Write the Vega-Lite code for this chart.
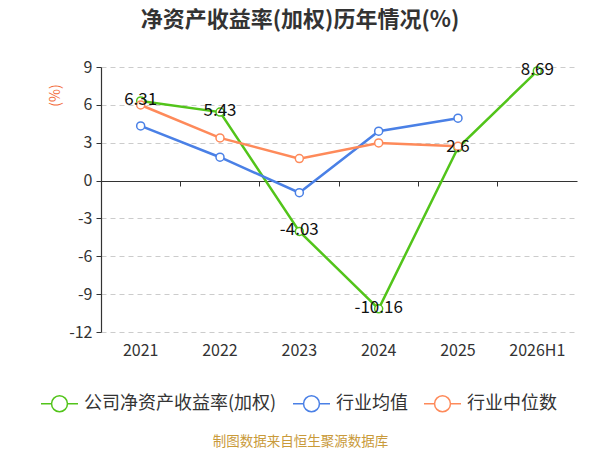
{
  "$schema": "https://vega.github.io/schema/vega-lite/v6.json",
  "autosize": "none",
  "width": 476,
  "height": 265,
  "padding": {"left": 101, "top": 67, "right": 23, "bottom": 118},
  "background": "white",
  "config": {
    "font": "Noto Sans CJK SC",
    "view": {"stroke": null}
  },
  "title": {
    "text": "净资产收益率(加权)历年情况(%)",
    "fontSize": 22,
    "fontWeight": "bold",
    "color": "#333333",
    "anchor": "middle",
    "dx": -39,
    "offset": 27
  },
  "data": {
    "values": [
      {"series": "公司净资产收益率(加权)", "year": "2021", "value": 6.31},
      {"series": "公司净资产收益率(加权)", "year": "2022", "value": 5.43},
      {"series": "公司净资产收益率(加权)", "year": "2023", "value": -4.03},
      {"series": "公司净资产收益率(加权)", "year": "2024", "value": -10.16},
      {"series": "公司净资产收益率(加权)", "year": "2025", "value": 2.6},
      {"series": "公司净资产收益率(加权)", "year": "2026H1", "value": 8.69},
      {"series": "行业均值", "year": "2021", "value": 4.33},
      {"series": "行业均值", "year": "2022", "value": 1.85},
      {"series": "行业均值", "year": "2023", "value": -0.96},
      {"series": "行业均值", "year": "2024", "value": 3.91},
      {"series": "行业均值", "year": "2025", "value": 4.94},
      {"series": "行业中位数", "year": "2021", "value": 5.99},
      {"series": "行业中位数", "year": "2022", "value": 3.38},
      {"series": "行业中位数", "year": "2023", "value": 1.74},
      {"series": "行业中位数", "year": "2024", "value": 2.98},
      {"series": "行业中位数", "year": "2025", "value": 2.72}
    ]
  },
  "encoding": {
    "y": {
      "field": "value",
      "type": "quantitative",
      "scale": {"domain": [-12, 9], "nice": false, "zero": false},
      "axis": {
        "values": [-12, -9, -6, -3, 0, 3, 6, 9],
        "labelExpr": "datum.value + ''",
        "title": "(%)",
        "titleColor": "#f26b3a",
        "titleFontSize": 14,
        "titleFontWeight": "normal",
        "titleX": -46,
        "titleY": 28,
        "titleAlign": "center",
        "titleBaseline": "middle",
        "titleAngle": -90,
        "labelFontSize": 16,
        "labelColor": "#333333",
        "labelPadding": 4,
        "domainColor": "#333333",
        "domainWidth": 1.2,
        "tickColor": "#333333",
        "tickSize": 5,
        "gridColor": "#cccccc",
        "gridDash": [5, 4],
        "gridWidth": 1
      }
    }
  },
  "layer": [
    {
      "mark": {"type": "line", "strokeWidth": 2.5},
      "encoding": {
        "x": {
          "field": "year",
          "type": "ordinal",
          "scale": {"type": "band", "paddingInner": 0, "paddingOuter": 0},
          "axis": {
            "orient": "bottom",
            "domain": false,
            "ticks": false,
            "grid": false,
            "labelAngle": 0,
            "labelFontSize": 16,
            "labelColor": "#333333",
            "labelPadding": 10,
            "title": "制图数据来自恒生聚源数据库",
            "titleColor": "#c99a3a",
            "titleFontSize": 13.5,
            "titleFontWeight": "normal",
            "titleX": 199,
            "titleY": 109,
            "titleAlign": "center",
            "titleBaseline": "middle"
          }
        },
        "color": {
          "field": "series",
          "type": "nominal",
          "sort": ["公司净资产收益率(加权)", "行业均值", "行业中位数"],
          "scale": {
            "domain": ["公司净资产收益率(加权)", "行业均值", "行业中位数"],
            "range": ["#52c41a", "#4a80e6", "#fe8a5a"]
          },
          "legend": {
            "title": null,
            "orient": "none",
            "direction": "horizontal",
            "legendX": -61,
            "legendY": 317,
            "symbolType": "M-1,0L-0.43,0M0.43,0L1,0M-0.43,0A0.43,0.43,0,1,1,0.43,0A0.43,0.43,0,1,1,-0.43,0",
            "symbolSize": 1369,
            "symbolStrokeWidth": 1.5,
            "symbolFillColor": "white",
            "labelFontSize": 18,
            "labelColor": "#333333",
            "labelOffset": 5,
            "labelLimit": 400,
            "columnPadding": 13
          }
        }
      }
    },
    {
      "mark": {"type": "point", "filled": true, "fill": "white", "size": 64, "strokeWidth": 1.5, "opacity": 1},
      "encoding": {
        "x": {
          "field": "year",
          "type": "ordinal",
          "axis": {
            "orient": "bottom",
            "offset": -151,
            "labels": false,
            "grid": false,
            "title": null,
            "domain": true,
            "domainColor": "#333333",
            "domainWidth": 1.2,
            "ticks": true,
            "tickColor": "#333333",
            "tickSize": 5,
            "bandPosition": 0
          }
        },
        "stroke": {
          "field": "series",
          "type": "nominal",
          "scale": {
            "domain": ["公司净资产收益率(加权)", "行业均值", "行业中位数"],
            "range": ["#52c41a", "#4a80e6", "#fe8a5a"]
          },
          "legend": null
        }
      }
    },
    {
      "transform": [{"filter": "datum.series === '公司净资产收益率(加权)'"}],
      "mark": {"type": "text", "fontSize": 17, "color": "#111111", "align": "center", "baseline": "middle", "dy": -1},
      "encoding": {
        "x": {"field": "year", "type": "ordinal", "axis": null},
        "text": {"field": "value", "type": "nominal"}
      }
    }
  ],
  "resolve": {"axis": {"x": "independent"}}
}
